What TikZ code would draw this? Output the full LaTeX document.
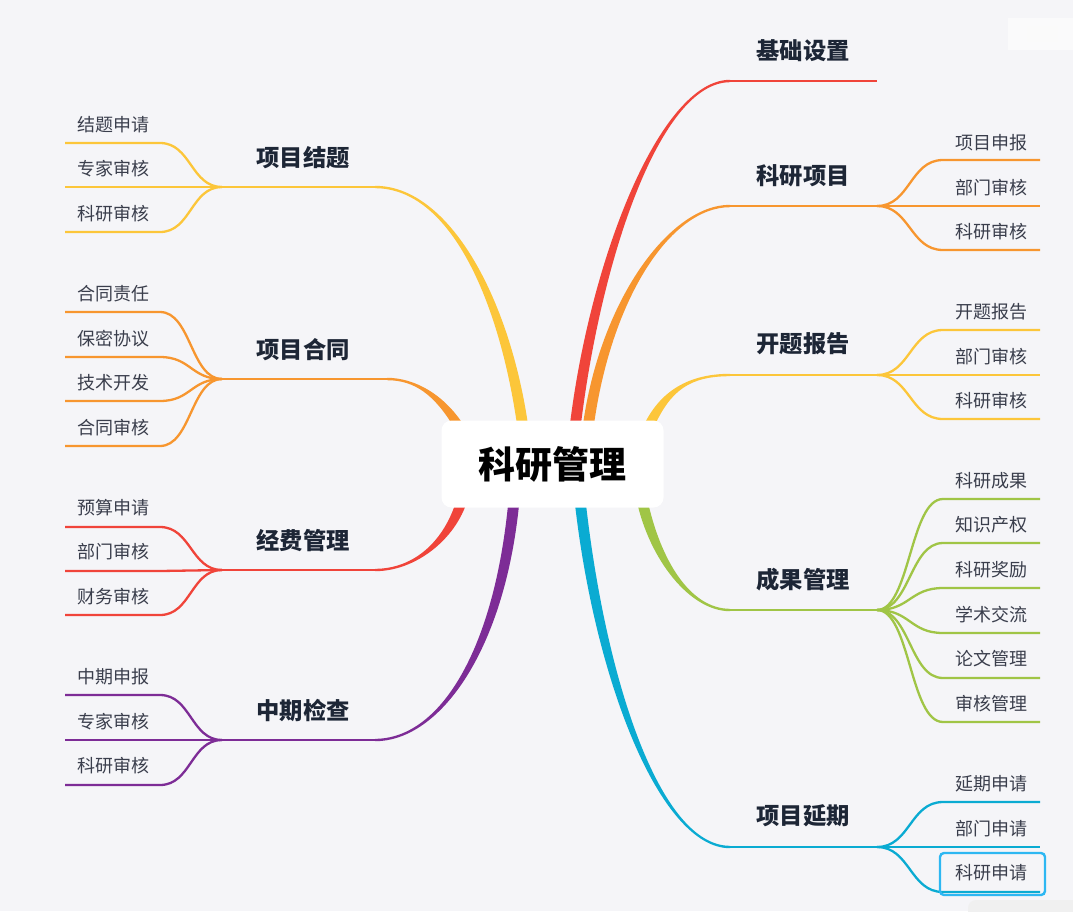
\documentclass[tikz,border=0pt]{standalone}
\usepackage{fontspec}
\newfontfamily\cjk{Noto Sans CJK SC}
\usetikzlibrary{calc}
\definecolor{bg}{HTML}{F5F5F8}
\definecolor{cred}{HTML}{F0443A}
\definecolor{corange}{HTML}{F7962F}
\definecolor{cyellow}{HTML}{FCC63A}
\definecolor{cgreen}{HTML}{A0C546}
\definecolor{ccyan}{HTML}{0AABD2}
\definecolor{cpurple}{HTML}{7D2C96}
\definecolor{subtxt}{HTML}{3A3E4C}
\definecolor{maintxt}{HTML}{1D2636}
\definecolor{hilite}{HTML}{2DB7F2}
\tikzset{
  sub/.style={font=\cjk\fontsize{18}{20}\selectfont, text=subtxt, anchor=west, inner sep=0pt},
  mainlbl/.style={font=\cjk\bfseries\fontsize{23.3}{26}\selectfont, text=maintxt, inner sep=0pt},
  rootbox/.style={fill=white, rounded corners=10pt, minimum width=222pt, minimum height=87pt,
     font=\cjk\bfseries\fontsize{37}{40}\selectfont, text=black},
  kid/.style={line width=2.3pt},
  hline/.style={line width=2.4pt},
}
\newcommand\taper[7]{%
  \fill[#1] ($(#2)+(-5.5,0)$) .. controls ($(#3)+(-5.5,0)$) and ($(#4)+(0,#6)$) .. ($(#5)+(0,#6)$)
    -- ($(#5)+(0,#7)$) .. controls ($(#4)+(0,#7)$) and ($(#3)+(5.5,0)$) .. ($(#2)+(5.5,0)$) -- cycle;}
\newcommand\rkids[3]{%
  \foreach \ly/\ty/\tx/\nm in {#3}{
    \node[sub] (\nm) at (955,\ty) {\tx};
    \coordinate (\nm A) at (943,\ly);
    \coordinate (\nm B) at (1040,\ly);
    \draw[kid,#1] (#2) .. controls ($(#2)+(33,0)$) and ($(\nm A)+(-33,0)$) .. (\nm A) -- (\nm B);
  }}
\newcommand\lkids[3]{%
  \foreach \ly/\ty/\tx/\nm in {#3}{
    \node[sub] (\nm) at (77,\ty) {\tx};
    \coordinate (\nm A) at (160,\ly);
    \coordinate (\nm B) at (65,\ly);
    \draw[kid,#1] (#2) .. controls ($(#2)+(-31,0)$) and ($(\nm A)+(31,0)$) .. (\nm A) -- (\nm B);
  }}
\begin{document}
\begin{tikzpicture}[x=1pt,y=-1pt]
\useasboundingbox (0,0) rectangle (1073,911);
\fill[bg] (0,0) rectangle (1073,911);
% faint artefacts
\fill[white,opacity=0.5] (1008,18) rectangle (1073,50);
\fill[black!2] (1027,26) rectangle (1058,42);
\fill[black!6, rounded corners=8pt] (968,900) rectangle (1090,930);

% ---------- right side ----------
% 基础设置
\coordinate (r1s) at (575,428); \coordinate (r1c1) at (595,260); \coordinate (r1c2) at (660,81);
\coordinate (r1e) at (730,81); \coordinate (r1j) at (877,81);
\taper{cred}{r1s}{r1c1}{r1c2}{r1e}{-1.2}{1.2}
\draw[hline,cred] (r1e) -- (r1j);
\node[mainlbl] (r1) at (803,51) {基础设置};

% 科研项目
\coordinate (r2s) at (588,428); \coordinate (r2c1) at (605,300); \coordinate (r2c2) at (670,206);
\coordinate (r2e) at (730,206); \coordinate (r2j) at (877,206);
\taper{corange}{r2s}{r2c1}{r2c2}{r2e}{-1.2}{1.2}
\draw[hline,corange] (r2e) -- (r2j);
\node[mainlbl] (r2) at (803,176) {科研项目};
\rkids{corange}{r2j}{160/143/项目申报/r2a, 206/188/部门审核/r2b, 250/232/科研审核/r2c}

% 开题报告
\coordinate (r3s) at (648,428); \coordinate (r3c1) at (665,390); \coordinate (r3c2) at (690,375);
\coordinate (r3e) at (730,375); \coordinate (r3j) at (877,375);
\taper{cyellow}{r3s}{r3c1}{r3c2}{r3e}{-1.2}{1.2}
\draw[hline,cyellow] (r3e) -- (r3j);
\node[mainlbl] (r3) at (803,344) {开题报告};
\rkids{cyellow}{r3j}{330/312/开题报告/r3a, 375/357/部门审核/r3b, 419/401/科研审核/r3c}

% 成果管理
\coordinate (r4s) at (642,500); \coordinate (r4c1) at (655,560); \coordinate (r4c2) at (690,610);
\coordinate (r4e) at (730,610); \coordinate (r4j) at (877,610);
\taper{cgreen}{r4s}{r4c1}{r4c2}{r4e}{1.2}{-1.2}
\draw[hline,cgreen] (r4e) -- (r4j);
\node[mainlbl] (r4) at (803,580) {成果管理};
\rkids{cgreen}{r4j}{499/481/科研成果/r4a, 543/525/知识产权/r4b, 588/570/科研奖励/r4c, 633/615/学术交流/r4d, 678/659/论文管理/r4e, 722/704/审核管理/r4f}

% 项目延期
\coordinate (r5s) at (580,500); \coordinate (r5c1) at (600,680); \coordinate (r5c2) at (660,847);
\coordinate (r5e) at (730,847); \coordinate (r5j) at (877,847);
\taper{ccyan}{r5s}{r5c1}{r5c2}{r5e}{1.2}{-1.2}
\draw[hline,ccyan] (r5e) -- (r5j);
\node[mainlbl] (r5) at (803,816) {项目延期};
\rkids{ccyan}{r5j}{802/784/延期申请/r5a, 847/829/部门申请/r5b, 892/873/科研申请/r5c}
\draw[hilite, line width=2.4pt, rounded corners=4pt] (940,853) rectangle (1045,895);

% ---------- left side ----------
% 项目结题
\coordinate (l1s) at (523,428); \coordinate (l1c1) at (505,300); \coordinate (l1c2) at (450,187);
\coordinate (l1e) at (375,187); \coordinate (l1j) at (222,187);
\taper{cyellow}{l1s}{l1c1}{l1c2}{l1e}{1.2}{-1.2}
\draw[hline,cyellow] (l1e) -- (l1j);
\node[mainlbl] (l1) at (303,158) {项目结题};
\lkids{cyellow}{l1j}{143/125/结题申请/l1a, 187/169/专家审核/l1b, 232/214/科研审核/l1c}

% 项目合同
\coordinate (l2s) at (460,428); \coordinate (l2c1) at (440,395); \coordinate (l2c2) at (415,379);
\coordinate (l2e) at (387,379); \coordinate (l2j) at (222,379);
\taper{corange}{l2s}{l2c1}{l2c2}{l2e}{1.2}{-1.2}
\draw[hline,corange] (l2e) -- (l2j);
\node[mainlbl] (l2) at (303,350) {项目合同};
\lkids{corange}{l2j}{312/294/合同责任/l2a, 357/339/保密协议/l2b, 401/383/技术开发/l2c, 446/428/合同审核/l2d}

% 经费管理
\coordinate (l3s) at (462,500); \coordinate (l3c1) at (450,540); \coordinate (l3c2) at (415,570);
\coordinate (l3e) at (375,570); \coordinate (l3j) at (222,570);
\taper{cred}{l3s}{l3c1}{l3c2}{l3e}{-1.2}{1.2}
\draw[hline,cred] (l3e) -- (l3j);
\node[mainlbl] (l3) at (303,541) {经费管理};
\lkids{cred}{l3j}{527/508/预算申请/l3a, 571/552/部门审核/l3b, 615/597/财务审核/l3c}

% 中期检查
\coordinate (l4s) at (514,500); \coordinate (l4c1) at (500,650); \coordinate (l4c2) at (440,740);
\coordinate (l4e) at (375,740); \coordinate (l4j) at (222,740);
\taper{cpurple}{l4s}{l4c1}{l4c2}{l4e}{-1.2}{1.2}
\draw[hline,cpurple] (l4e) -- (l4j);
\node[mainlbl] (l4) at (303,711) {中期检查};
\lkids{cpurple}{l4j}{695/677/中期申报/l4a, 740/722/专家审核/l4b, 785/766/科研审核/l4c}

% ---------- root ----------
\node[rootbox] (root) at (552.5,464) {科研管理};
\end{tikzpicture}
\end{document}
